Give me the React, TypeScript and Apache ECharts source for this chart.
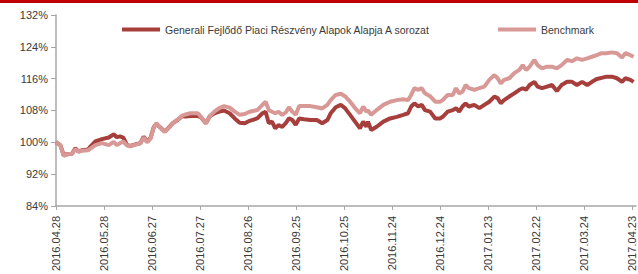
import React, { useEffect, useRef } from "react";
import * as echarts from "echarts";

const tickLabels = [
  "2016.04.28", "2016.05.28", "2016.06.27", "2016.07.27", "2016.08.26", "2016.09.25",
  "2016.10.25", "2016.11.24", "2016.12.24", "2017.01.23", "2017.02.22", "2017.03.24", "2017.04.23",
];

const yTicks = [84, 92, 100, 108, 116, 124, 132];

const fundName = "Generali Fejlődő Piaci Részvény Alapok Alapja A sorozat";
const benchName = "Benchmark";

// day offsets from 2016.04.28
const dayOffsets = [
  0, 2.7, 4.8, 6.9, 10, 12, 14, 16, 20, 21.5, 24.6, 28.7, 33, 36, 38, 40, 42, 44.4, 46.4, 50.6,
  52.7, 54.8, 56.9, 59, 61, 62.7, 65.8, 68, 70, 73, 76, 79, 81, 84, 88.7, 90.6, 93.7, 96, 99, 102,
  105, 108.5, 111.7, 114.8, 118, 121, 125.8, 129, 131, 133, 135, 137, 139, 141.4, 143.6, 145.6, 147.7, 149.8, 152, 155,
  159, 163, 166.4, 169.6, 171.7, 174.8, 178, 180.6, 183.8, 186.9, 190, 192, 194, 195, 197, 200.4, 204.6, 208.8, 213, 217,
  220, 222, 224, 226.4, 228.6, 230.6, 233.8, 237, 240, 241.7, 244.8, 248, 250, 252, 254, 256, 258, 261.4, 264.6, 267.7,
  270.8, 274, 276, 278, 280, 283.3, 286.4, 289.6, 291.7, 293.8, 296, 299, 301, 303.8, 306.9, 310, 313, 316, 319.4, 322.5,
  325.6, 328.8, 332, 335, 338, 341, 344, 347.5, 350.6, 353.8, 355.8, 359, 361,
];

const fundValues = [
  100.0, 99.3, 96.8, 97.0, 97.1, 98.5, 97.7, 98.0, 98.2, 98.9, 100.2, 100.8, 101.2, 102.0, 101.3, 101.5, 101.2, 99.3, 99.1, 99.6,
  99.8, 101.4, 100.2, 101.0, 103.7, 104.6, 103.5, 102.7, 103.5, 104.8, 105.6, 106.6, 106.5, 106.6, 106.6, 106.3, 104.8, 106.5, 107.3, 107.7,
  108.0, 107.3, 106.0, 104.9, 104.8, 105.4, 106.0, 107.3, 107.7, 104.8, 105.2, 103.5, 104.3, 103.9, 104.8, 106.0, 105.6, 104.4, 106.0, 105.8,
  105.6, 105.6, 104.8, 105.6, 107.3, 108.8, 109.4, 108.6, 106.9, 105.2, 103.5, 105.2, 103.9, 105.2, 103.1, 103.9, 105.2, 106.0, 106.4, 106.9,
  107.3, 109.0, 109.8, 109.0, 109.4, 108.1, 107.7, 106.0, 106.0, 106.4, 107.7, 108.1, 108.6, 107.7, 109.0, 109.8, 109.0, 109.4, 108.6, 109.4,
  110.2, 111.5, 111.1, 109.8, 110.6, 111.5, 112.3, 113.2, 113.6, 113.2, 114.4, 115.2, 114.0, 113.6, 114.0, 114.4, 112.9, 114.4, 115.2, 115.2,
  114.4, 115.2, 114.4, 115.2, 115.9, 116.2, 116.5, 116.5, 116.1, 115.2, 116.1, 115.7, 115.2,
];

const benchValues = [
  100.0, 99.3, 96.6, 97.0, 97.1, 98.3, 97.6, 97.9, 98.0, 98.4, 99.3, 99.8, 99.3, 100.1, 99.3, 99.8, 100.2, 99.2, 99.0, 99.5,
  99.7, 101.2, 100.0, 100.9, 103.6, 104.8, 103.4, 102.6, 103.4, 104.8, 105.7, 106.7, 107.0, 107.3, 107.3, 106.4, 104.8, 106.5, 107.7, 108.6,
  109.1, 108.7, 107.7, 106.9, 107.1, 107.7, 108.1, 109.4, 110.2, 108.1, 107.7, 107.3, 107.7, 106.9, 107.5, 108.8, 107.7, 106.9, 109.1, 109.1,
  109.1, 108.8, 108.5, 109.4, 110.6, 111.9, 112.2, 111.6, 110.2, 108.6, 107.3, 109.0, 107.7, 108.0, 106.9, 108.1, 109.4, 110.2, 110.6, 110.8,
  110.6, 111.9, 113.6, 113.2, 113.6, 112.3, 111.6, 110.2, 110.2, 110.6, 111.9, 111.9, 113.6, 112.3, 112.7, 114.4, 113.6, 113.2, 113.6, 114.0,
  115.7, 116.9, 116.1, 114.8, 115.7, 116.1, 117.4, 118.2, 119.4, 118.2, 119.0, 120.7, 119.4, 118.6, 119.0, 119.0, 118.6, 119.4, 120.7, 120.4,
  121.1, 120.7, 121.1, 121.5, 121.9, 122.4, 122.4, 122.6, 122.4, 121.3, 122.4, 121.9, 121.5,
];

const FONT = "Liberation Sans";
const TEXT = "#3a3a3a";
const AXIS = "#a6a6a6";
const FUND_COLOR = "#a63e3b";
const BENCH_COLOR = "#d89896";

export default function App() {
  const ref = useRef<HTMLDivElement>(null);

  useEffect(() => {
    if (!ref.current) return;
    const chart = echarts.init(ref.current, null, { renderer: "svg" });
    const step = 30;
    chart.setOption({
      animation: false,
      backgroundColor: "#ffffff",
      textStyle: { fontFamily: FONT },
      graphic: [
        { type: "rect", left: 0, top: 0, shape: { width: 638, height: 3 }, style: { fill: "#c00000" } },
      ],
      legend: [
        {
          data: [fundName],
          left: 117,
          top: 19,
          icon: "rect",
          itemWidth: 38,
          itemHeight: 4,
          textStyle: { fontFamily: FONT, fontSize: 10.5, color: TEXT },
        },
        {
          data: [benchName],
          left: 493,
          top: 19,
          icon: "rect",
          itemWidth: 38,
          itemHeight: 4,
          textStyle: { fontFamily: FONT, fontSize: 10.5, color: TEXT },
        },
      ],
      grid: { left: 56, right: 2, top: 15, bottom: 68 },
      xAxis: {
        type: "value",
        min: 0,
        max: 362.5,
        splitLine: { show: false },
        axisLine: { show: true, lineStyle: { color: AXIS, width: 1.5 } },
        axisTick: {
          show: true,
          length: 4,
          lineStyle: { color: AXIS },
          customValues: tickLabels.map((_, i) => i * step),
        },
        axisLabel: {
          rotate: 90,
          margin: 10,
          fontSize: 11,
          color: TEXT,
          fontFamily: FONT,
          customValues: tickLabels.map((_, i) => i * step),
          formatter: (v: number) => tickLabels[Math.round(v / step)] ?? "",
        },
      },
      yAxis: {
        type: "value",
        min: yTicks[0],
        max: yTicks[yTicks.length - 1],
        interval: 8,
        splitLine: { show: false },
        axisLine: { show: true, lineStyle: { color: AXIS, width: 1.5 } },
        axisTick: { show: true, length: 5, lineStyle: { color: AXIS } },
        axisLabel: {
          margin: 8,
          fontSize: 11,
          color: TEXT,
          fontFamily: FONT,
          formatter: "{value}%",
        },
      },
      series: [
        {
          name: fundName,
          type: "line",
          showSymbol: false,
          itemStyle: { color: FUND_COLOR },
          lineStyle: { color: FUND_COLOR, width: 4 },
          data: dayOffsets.map((d, i) => [d, fundValues[i]]),
        },
        {
          name: benchName,
          type: "line",
          showSymbol: false,
          itemStyle: { color: BENCH_COLOR },
          lineStyle: { color: BENCH_COLOR, width: 4 },
          data: dayOffsets.map((d, i) => [d, benchValues[i]]),
        },
      ],
    });
    return () => chart.dispose();
  }, []);

  return (
    <div
      ref={ref}
      style={{ position: "fixed", left: 0, top: 0, width: 638, height: 274 }}
    />
  );
}
